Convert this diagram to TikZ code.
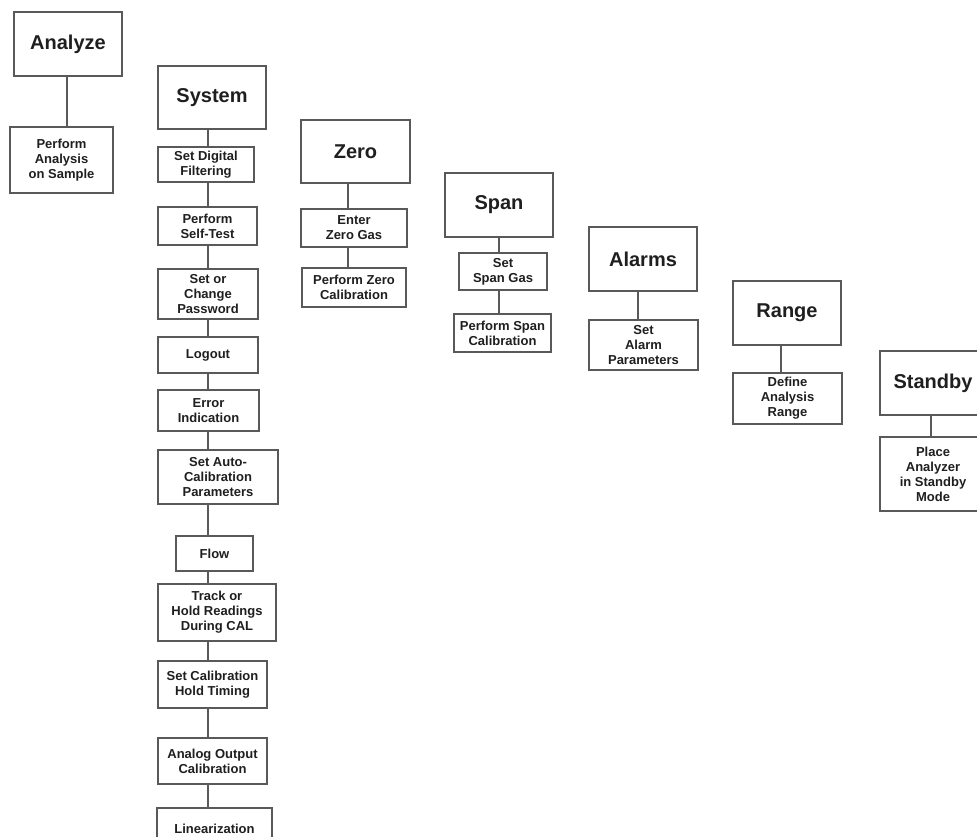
\documentclass[tikz,border=0pt]{standalone}
\usepackage{fontspec}
\setmainfont{Liberation Sans}
\begin{document}
\begin{tikzpicture}[x=1pt,y=-1pt,
  box/.style={draw=black!65, line width=1.7pt, fill=white, align=center, inner sep=2pt,
    text=black!88, font=\fontsize{13}{15}\selectfont\bfseries},
  title/.style={box, font=\fontsize{20}{24}\selectfont\bfseries},
  link/.style={draw=black!65, line width=1.7pt}]
\useasboundingbox (0,0) rectangle (977,837);
\clip (0,0) rectangle (977,837);
% columns
\coordinate (cA) at (67,0);
\coordinate (cS) at (208,0);
\coordinate (cZ) at (348,0);
\coordinate (cP) at (499,0);
\coordinate (cL) at (638,0);
\coordinate (cR) at (781,0);
\coordinate (cB) at (931,0);
% Analyze
\node[title, minimum width=108pt, minimum height=64pt] (ana) at (68,44) {Analyze};
\node[box, minimum width=103pt, minimum height=66pt] (pa) at (61.5,160) {Perform\\Analysis\\on Sample};
% System
\node[title, minimum width=108pt, minimum height=63pt] (sys) at (212,97.5) {System};
\node[box, minimum width=96pt, minimum height=35pt] (sdf) at (206,164.5) {Set Digital\\Filtering};
\node[box, minimum width=99pt, minimum height=38pt] (pst) at (207.5,226) {Perform\\Self-Test};
\node[box, minimum width=100pt, minimum height=50pt] (scp) at (208,294) {Set or\\Change\\Password};
\node[box, minimum width=100pt, minimum height=36pt] (log) at (208,355) {Logout};
\node[box, minimum width=101pt, minimum height=41pt] (err) at (208.5,410.5) {Error\\Indication};
\node[box, minimum width=120pt, minimum height=54pt] (acp) at (218,477) {Set Auto-\\Calibration\\Parameters};
\node[box, minimum width=77pt, minimum height=35pt] (flo) at (214.5,553.5) {Flow};
\node[box, minimum width=118pt, minimum height=57pt] (trk) at (217,612.5) {Track or\\Hold Readings\\During CAL};
\node[box, minimum width=109pt, minimum height=47pt] (cht) at (212.5,684.5) {Set Calibration\\Hold Timing};
\node[box, minimum width=109pt, minimum height=46pt] (aoc) at (212.5,761) {Analog Output\\Calibration};
\node[box, minimum width=115pt, minimum height=42pt] (lin) at (214.5,829) {Linearization};
% Zero
\node[title, minimum width=109pt, minimum height=63pt] (zer) at (355.5,151.5) {Zero};
\node[box, minimum width=106pt, minimum height=38pt] (ezg) at (354,228) {Enter\\Zero Gas};
\node[box, minimum width=104pt, minimum height=39pt] (pzc) at (354,287.5) {Perform Zero\\Calibration};
% Span
\node[title, minimum width=108pt, minimum height=64pt] (spa) at (499,205) {Span};
\node[box, minimum width=88pt, minimum height=37pt] (ssg) at (503,271.5) {Set\\Span Gas};
\node[box, minimum width=97pt, minimum height=38pt] (psc) at (502.5,333) {Perform Span\\Calibration};
% Alarms
\node[title, minimum width=108pt, minimum height=64pt] (alm) at (643,259) {Alarms};
\node[box, minimum width=109pt, minimum height=50pt] (sap) at (643.5,345) {Set\\Alarm\\Parameters};
% Range
\node[title, minimum width=108pt, minimum height=64pt] (rng) at (787,313) {Range};
\node[box, minimum width=109pt, minimum height=51pt] (dar) at (787.5,398.5) {Define\\Analysis\\Range};
% Standby
\node[title, minimum width=106pt, minimum height=64pt] (stb) at (933,383) {Standby};
\node[box, minimum width=106pt, minimum height=74pt] (pas) at (933,474) {Place\\Analyzer\\in Standby\\Mode};
% connectors
\draw[link] (ana.south -| cA) -- (pa.north -| cA);
\draw[link] (sys.south -| cS) -- (sdf.north -| cS);
\draw[link] (sdf.south -| cS) -- (pst.north -| cS);
\draw[link] (pst.south -| cS) -- (scp.north -| cS);
\draw[link] (scp.south -| cS) -- (log.north -| cS);
\draw[link] (log.south -| cS) -- (err.north -| cS);
\draw[link] (err.south -| cS) -- (acp.north -| cS);
\draw[link] (acp.south -| cS) -- (flo.north -| cS);
\draw[link] (flo.south -| cS) -- (trk.north -| cS);
\draw[link] (trk.south -| cS) -- (cht.north -| cS);
\draw[link] (cht.south -| cS) -- (aoc.north -| cS);
\draw[link] (aoc.south -| cS) -- (lin.north -| cS);
\draw[link] (zer.south -| cZ) -- (ezg.north -| cZ);
\draw[link] (ezg.south -| cZ) -- (pzc.north -| cZ);
\draw[link] (spa.south -| cP) -- (ssg.north -| cP);
\draw[link] (ssg.south -| cP) -- (psc.north -| cP);
\draw[link] (alm.south -| cL) -- (sap.north -| cL);
\draw[link] (rng.south -| cR) -- (dar.north -| cR);
\draw[link] (stb.south -| cB) -- (pas.north -| cB);
\end{tikzpicture}
\end{document}
